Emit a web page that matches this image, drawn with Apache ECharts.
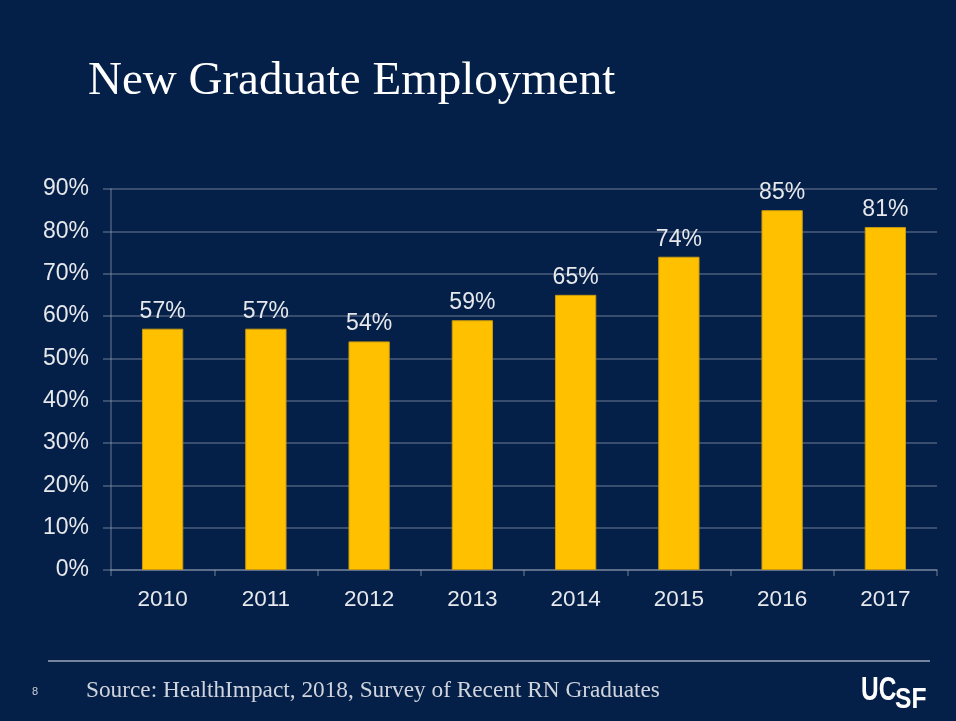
<!DOCTYPE html>
<html>
<head>
<meta charset="utf-8">
<script src="https://cdn.jsdelivr.net/npm/echarts@6/dist/echarts.min.js"></script>
<style>
html,body{margin:0;padding:0;background:#052048;}
#c{width:956px;height:721px;}
</style>
</head>
<body>
<div id="c"></div>
<script>
const titleText = "New Graduate Employment";
const sourceText = "Source: HealthImpact, 2018, Survey of Recent RN Graduates";
const pageNumber = "8";
const years = ["2010","2011","2012","2013","2014","2015","2016","2017"];
const employedPct = [57, 57, 54, 59, 65, 74, 85, 81];
const yTicks = [0, 10, 20, 30, 40, 50, 60, 70, 80, 90];

const chart = echarts.init(document.getElementById('c'));
const gridCol = 'rgba(160,170,190,0.45)';
chart.setOption({
  backgroundColor: '#052048',
  animation: false,
  title: {
    text: titleText,
    left: 83, top: 53,
    textStyle: {
      fontFamily: 'Liberation Serif', fontWeight: 'normal',
      fontSize: 47, color: '#ffffff'
    }
  },
  grid: { left: 111, right: 19, top: 189, bottom: 151, containLabel: false },
  xAxis: {
    type: 'category',
    data: years,
    axisLine: { lineStyle: { color: gridCol, width: 1.5 } },
    axisTick: { show: true, length: 6, lineStyle: { color: gridCol, width: 1.5 } },
    axisLabel: { color: '#e6e8ec', fontFamily: 'Liberation Sans', fontSize: 22.5, margin: 18 }
  },
  yAxis: {
    type: 'value',
    min: yTicks[0], max: yTicks[yTicks.length - 1], interval: 10,
    axisLine: { show: true, lineStyle: { color: gridCol, width: 1.5 } },
    axisTick: { show: true, length: 8, lineStyle: { color: gridCol, width: 1.5 } },
    splitLine: { lineStyle: { color: gridCol, width: 1.5 } },
    axisLabel: {
      color: '#e6e8ec', fontFamily: 'Liberation Sans', fontSize: 23, margin: 22,
      formatter: v => v + '%'
    }
  },
  series: [{
    type: 'bar',
    data: employedPct,
    barWidth: '40%',
    itemStyle: { color: '#FFC000', borderColor: '#c79a10', borderWidth: 1 },
    label: {
      show: true, position: 'top', distance: 6,
      formatter: p => p.value + '%',
      color: '#e6e8ec', fontFamily: 'Liberation Sans', fontSize: 23
    }
  }],
  graphic: [
    { type: 'line', shape: { x1: 48, y1: 661, x2: 930, y2: 661 },
      style: { stroke: '#9aa6bd', lineWidth: 1.5 } },
    { type: 'text', left: 32, top: 686,
      style: { text: pageNumber, fill: '#c8ccd6', fontSize: 11, fontFamily: 'Liberation Sans' } },
    { type: 'text', left: 86, top: 679,
      style: { text: sourceText, fill: '#d0d4dd', fontSize: 23.3, fontFamily: 'Liberation Serif' } },
    { type: 'text', x: 861, y: 674, scaleX: 0.72,
      style: { text: 'UC', fill: '#ffffff', fontSize: 34, fontWeight: 'bold', fontFamily: 'Liberation Sans' } },
    { type: 'text', x: 895, y: 685, scaleX: 0.82,
      style: { text: 'SF', fill: '#ffffff', fontSize: 30, fontWeight: 'bold', fontFamily: 'Liberation Sans' } }
  ]
});
</script>
</body>
</html>
